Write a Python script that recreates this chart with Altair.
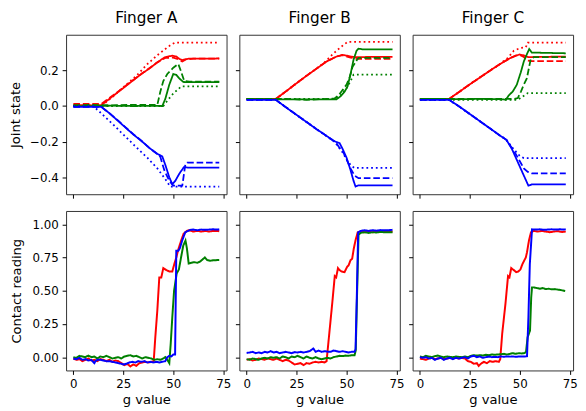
import altair as alt
import pandas as pd

# ---------------- Joint state (top row) ----------------
# Finger A
A_R_SOLID = [(0,0.005),(5,0.005),(10,0.004),(14,0.005),(18,0.04),(22,0.075),(26,0.11),(30,0.145),(34,0.18),(38,0.21),(42,0.245),(45.5,0.272),(47.5,0.278),(49.5,0.283),(51.5,0.278),(53,0.265),(54.5,0.258),(56,0.262),(58,0.266),(63,0.266),(68,0.266),(73,0.267)]
A_R_DASH = [(0,0.012),(14,0.012),(18,0.045),(22,0.078),(26,0.112),(30,0.146),(34,0.18),(38,0.212),(42,0.245),(46,0.27),(50,0.272),(52,0.265),(54.5,0.25),(56.5,0.262),(60,0.266),(73,0.266)]
A_R_DOT = [(0,0.0),(14,0.0),(20,0.055),(26,0.115),(32,0.175),(37,0.235),(42,0.285),(46,0.32),(49,0.345),(51,0.356),(73,0.356)]
A_G_SOLID = [(0,0.0),(10,0.0),(20,0.002),(30,0.0),(40,0.001),(44.5,0.0),(46,0.04),(48,0.12),(50,0.18),(51.5,0.175),(53,0.155),(55,0.135),(58,0.134),(73,0.134)]
A_G_DASH = [(0,0.005),(10,0.006),(20,0.004),(30,0.007),(42,0.006),(43.5,0.08),(45,0.14),(47,0.18),(50,0.215),(52.5,0.236),(54,0.19),(55.5,0.14),(58,0.137),(73,0.137)]
A_G_DOT = [(0,0.0),(45,0.0),(47,0.03),(50,0.07),(54,0.11),(73,0.11)]
A_B_SOLID = [(0,-0.005),(10,-0.005),(14,-0.005),(18,-0.04),(22,-0.08),(26,-0.12),(30,-0.16),(34,-0.195),(38,-0.235),(42,-0.268),(44.5,-0.283),(46,-0.33),(48,-0.4),(49.5,-0.438),(51,-0.42),(53,-0.38),(55.3,-0.343),(58,-0.346),(73,-0.346)]
A_B_DASH = [(0,-0.005),(14,-0.005),(18,-0.04),(22,-0.078),(26,-0.118),(30,-0.158),(34,-0.195),(38,-0.235),(42,-0.27),(43.5,-0.285),(45.5,-0.36),(48,-0.42),(50,-0.447),(54.5,-0.447),(56,-0.33),(57,-0.318),(73,-0.318)]
A_B_DOT = [(0,0.0),(10,0.0),(20,-0.105),(30,-0.215),(37,-0.29),(42,-0.35),(46,-0.41),(48.5,-0.452),(73,-0.452)]

# Finger B
B_R_SOLID = [(0,0.04),(14.6,0.04),(20,0.085),(25,0.128),(30,0.17),(35,0.21),(40,0.25),(45,0.278),(48,0.287),(50,0.283),(52,0.278),(54.7,0.274),(58,0.275),(73,0.276)]
B_R_DASH = [(0,0.04),(14.6,0.04),(20,0.085),(25,0.128),(30,0.17),(35,0.21),(40,0.25),(45,0.278),(48,0.285),(52,0.272),(55,0.265),(73,0.265)]
B_R_DOT = [(0,0.04),(14.6,0.04),(20,0.085),(25,0.128),(30,0.17),(35,0.21),(39,0.245),(43,0.29),(47,0.33),(50.5,0.36),(73,0.36)]
B_G_SOLID = [(0,0.04),(10,0.038),(20,0.037),(30,0.037),(40,0.037),(45,0.038),(47,0.055),(49,0.08),(50.5,0.11),(52,0.18),(53.5,0.26),(55,0.31),(56,0.322),(58,0.318),(73,0.318)]
B_G_DASH = [(0,0.04),(20,0.04),(30,0.035),(40,0.04),(44,0.042),(46,0.06),(48,0.09),(50,0.12),(51.5,0.16),(53,0.22),(55,0.255),(56,0.27),(73,0.27)]
B_G_DOT = [(0,0.04),(44,0.04),(47,0.06),(50,0.1),(52,0.14),(53.5,0.176),(73,0.176)]
B_B_SOLID = [(0,0.035),(14.6,0.035),(20,-0.01),(25,-0.05),(30,-0.09),(35,-0.13),(40,-0.168),(44,-0.198),(46.5,-0.208),(48,-0.24),(50,-0.29),(52,-0.36),(53.5,-0.42),(54.5,-0.452),(56,-0.445),(73,-0.445)]
B_B_DASH = [(0,0.035),(14.6,0.035),(20,-0.01),(25,-0.05),(30,-0.09),(35,-0.13),(40,-0.168),(44,-0.2),(45,-0.21),(46.5,-0.235),(48,-0.25),(50,-0.3),(52,-0.35),(54,-0.39),(56,-0.405),(73,-0.405)]
B_B_DOT = [(0,0.035),(14.6,0.035),(20,-0.01),(25,-0.05),(30,-0.09),(35,-0.13),(40,-0.168),(44,-0.2),(46,-0.23),(48,-0.26),(50,-0.3),(52,-0.33),(53.8,-0.347),(73,-0.347)]

# Finger C
C_R_SOLID = [(0,0.04),(14.6,0.04),(20,0.082),(25,0.122),(30,0.16),(35,0.198),(40,0.235),(45,0.268),(48,0.283),(50,0.289),(52,0.284),(54.3,0.274),(58,0.276),(73,0.277)]
C_R_DASH = [(0,0.04),(14.6,0.04),(20,0.082),(25,0.122),(30,0.16),(35,0.198),(40,0.235),(45,0.268),(48,0.283),(50,0.287),(52,0.275),(54,0.255),(56,0.252),(73,0.252)]
C_R_DOT = [(0,0.04),(14.6,0.04),(20,0.082),(25,0.122),(30,0.16),(35,0.198),(40,0.235),(41,0.245),(44,0.27),(47,0.31),(50,0.325),(53,0.33),(54,0.356),(73,0.356)]
C_G_SOLID = [(0,0.04),(10,0.04),(20,0.038),(30,0.04),(40,0.038),(43,0.036),(44.5,0.06),(46.5,0.082),(48.5,0.12),(50.5,0.19),(52,0.25),(53.5,0.29),(54.7,0.32),(56,0.3),(73,0.296)]
C_G_DASH = [(0,0.04),(20,0.04),(40,0.04),(47,0.04),(49,0.045),(50.5,0.08),(52,0.12),(53.5,0.155),(54.5,0.21),(55.5,0.265),(57,0.274),(73,0.274)]
C_G_DOT = [(0,0.035),(49,0.035),(51,0.05),(54,0.073),(73,0.073)]
C_B_SOLID = [(0,0.035),(14.6,0.035),(20,-0.005),(25,-0.045),(30,-0.085),(35,-0.125),(40,-0.165),(43.3,-0.19),(46,-0.24),(48,-0.29),(50,-0.34),(52,-0.39),(54.3,-0.447),(56,-0.44),(73,-0.44)]
C_B_DASH = [(0,0.035),(14.6,0.035),(20,-0.005),(25,-0.045),(30,-0.085),(35,-0.125),(40,-0.165),(43.3,-0.19),(46,-0.235),(48,-0.27),(50,-0.31),(52,-0.35),(54,-0.37),(56,-0.378),(73,-0.378)]
C_B_DOT = [(0,0.035),(14.6,0.035),(20,-0.005),(25,-0.045),(30,-0.085),(35,-0.125),(40,-0.165),(43.3,-0.19),(46,-0.23),(48,-0.255),(50,-0.28),(52,-0.292),(73,-0.292)]

# ---------------- Contact reading (bottom row) ----------------
CA_R = [(0,-0.01),(1.5,-0.02),(3,-0.015),(4.5,-0.03),(6,-0.02),(7.5,-0.01),(9,-0.025),(10.5,-0.02),(12,-0.03),(13.5,-0.015),(15,-0.02),(16.5,-0.03),(18,-0.02),(19.5,-0.035),(21,-0.025),(22.5,-0.03),(24,-0.045),(25.5,-0.06),(27,-0.05),(28.5,-0.07),(30,-0.055),(31.5,-0.065),(33,-0.045),(34.5,-0.04),(36,-0.035),(37.5,-0.04),(39,-0.035),(40.2,-0.03),(41,0.15),(42,0.35),(43,0.6),(44,0.6),(45,0.67),(46.5,0.655),(48,0.645),(49.5,0.645),(50.5,0.7),(51.5,0.75),(52.7,0.82),(54,0.88),(55.2,0.93),(56.8,0.95),(58,0.955),(60,0.945),(62,0.95),(64,0.945),(66,0.95),(68,0.945),(70,0.95),(72,0.95),(73,0.948)]
CA_G = [(0,0.0),(1.5,-0.005),(3,0.01),(4.5,0.005),(6,0.0),(7.5,0.012),(9,0.0),(10.5,0.005),(12,-0.01),(13.5,0.005),(15,0.0),(16.5,0.01),(18,0.0),(19.5,-0.01),(21,-0.005),(22.5,0.0),(24,-0.01),(25.5,0.005),(27,0.01),(28.5,0.015),(30,0.005),(31.5,0.01),(33,0.0),(34.5,-0.01),(36,0.0),(37.5,-0.005),(39,-0.01),(40.5,-0.02),(42,-0.015),(43.5,-0.02),(45,-0.01),(46,0.0),(47,-0.02),(48,-0.045),(48.7,0.1),(49.5,0.3),(50.4,0.5),(51.7,0.63),(52.8,0.66),(54,0.76),(55,0.84),(56.1,0.877),(56.8,0.82),(57.7,0.705),(59,0.71),(60.5,0.715),(62,0.71),(63.5,0.72),(65,0.74),(65.8,0.75),(67,0.73),(68.5,0.725),(70,0.73),(71.5,0.73),(73,0.732)]
CA_B = [(0,-0.01),(1.5,-0.015),(3,-0.005),(4.5,-0.02),(6,-0.015),(7.5,-0.025),(9,-0.02),(10.5,-0.045),(11,-0.03),(12,-0.02),(13.5,-0.02),(15,-0.025),(16.5,-0.03),(18,-0.03),(19.5,-0.035),(21,-0.04),(22.5,-0.045),(24,-0.05),(25,-0.055),(26.5,-0.05),(28,-0.04),(29.5,-0.035),(31,-0.04),(32.5,-0.03),(34,-0.035),(35.5,-0.03),(37,-0.04),(38.5,-0.035),(40,-0.04),(41.5,-0.035),(43,-0.04),(44.5,-0.035),(46,-0.03),(47,0.0),(48,0.01),(49,0.005),(50,0.02),(50.9,0.02),(51.5,0.8),(52.5,0.8),(53.3,0.82),(54.5,0.88),(56,0.94),(58.5,0.958),(60,0.96),(62,0.955),(64,0.96),(66,0.958),(68,0.96),(70,0.962),(72,0.96),(73,0.962)]

CB_R = [(0,-0.02),(1.5,-0.015),(3,-0.025),(4.5,-0.02),(6,-0.01),(7.5,-0.015),(9,-0.02),(10.5,-0.01),(12,-0.015),(13.5,-0.02),(15,-0.01),(16.5,-0.02),(18,-0.03),(19.5,-0.02),(21,-0.025),(22.5,-0.04),(24,-0.055),(25.5,-0.05),(27,-0.045),(28.5,-0.06),(30,-0.045),(31.5,-0.05),(33,-0.04),(34.5,-0.035),(36,-0.04),(37.5,-0.035),(39,-0.04),(40,-0.03),(41.2,0.154),(42.8,0.4),(44.1,0.61),(44.8,0.6),(45.7,0.67),(46.5,0.655),(47.4,0.645),(49,0.64),(50.3,0.68),(51,0.69),(52,0.73),(52.8,0.74),(53.6,0.816),(54.5,0.88),(55.6,0.94),(57,0.945),(59,0.94),(61,0.945),(63,0.94),(65,0.945),(67,0.942),(69,0.945),(71,0.944),(73,0.945)]
CB_G = [(0,-0.015),(1.5,-0.02),(3,-0.01),(4.5,-0.015),(6,-0.02),(7.5,-0.01),(9,-0.005),(10.5,-0.01),(12,0.0),(13.5,-0.005),(15,0.0),(16.5,-0.01),(18,0.005),(19.5,0.0),(21,-0.01),(22.5,0.005),(24,0.0),(25.5,0.01),(27,0.0),(28.5,-0.01),(30,0.005),(31.5,-0.005),(33,-0.01),(34.5,0.0),(36,-0.01),(37.5,-0.015),(39,-0.01),(40.5,-0.005),(42,-0.01),(43.5,0.0),(45,0.005),(46.5,0.01),(48,0.008),(49.5,0.012),(51,0.01),(52.5,0.015),(54,0.015),(54.6,0.05),(55.3,0.5),(56,0.92),(57,0.935),(59,0.94),(61,0.935),(63,0.94),(65,0.938),(67,0.942),(69,0.94),(71,0.94),(73,0.94)]
CB_B = [(0,0.032),(1.5,0.035),(3,0.04),(4.5,0.03),(6,0.035),(7.5,0.03),(9,0.04),(10.5,0.035),(12,0.045),(13.5,0.035),(15,0.04),(16.5,0.03),(18,0.035),(19.5,0.04),(21,0.035),(22.5,0.03),(24,0.038),(25.5,0.035),(27,0.04),(28.5,0.035),(30,0.04),(31.5,0.045),(33.4,0.065),(34.5,0.04),(36,0.05),(37.5,0.04),(39,0.045),(40.5,0.042),(42,0.04),(43.5,0.05),(45,0.045),(46.5,0.04),(48,0.045),(49.5,0.04),(51,0.035),(52.5,0.04),(54,0.04),(54.5,0.06),(55.2,0.5),(55.8,0.94),(57,0.95),(59,0.955),(61,0.95),(63,0.955),(65,0.952),(67,0.956),(69,0.955),(71,0.955),(73,0.958)]

CC_R = [(0,-0.01),(1.5,-0.015),(3,-0.02),(4.5,-0.01),(6,-0.005),(7.5,-0.015),(9,-0.01),(10.5,-0.005),(12,-0.015),(13.5,-0.01),(15,-0.005),(16.5,-0.01),(18,-0.005),(19.5,-0.01),(21,-0.005),(22.5,-0.01),(24,-0.03),(25.5,-0.035),(27,-0.05),(28.5,-0.045),(29.4,-0.066),(30.5,-0.05),(32,-0.035),(33.5,-0.045),(35,-0.03),(36.5,-0.035),(38,-0.03),(39.5,-0.035),(40.2,-0.015),(41.2,0.18),(42.8,0.4),(44.1,0.61),(44.8,0.6),(45.7,0.67),(47,0.655),(48.2,0.64),(49.3,0.645),(50.3,0.66),(51.3,0.7),(52.3,0.73),(53,0.75),(53.6,0.79),(54.6,0.88),(55.6,0.94),(57,0.95),(59,0.945),(61,0.95),(63,0.945),(65,0.94),(67,0.945),(69,0.948),(71,0.942),(73,0.945)]
CC_G = [(0,0.005),(1.5,0.0),(3,0.01),(4.5,0.005),(6,0.0),(7.5,0.008),(9,0.012),(10.5,0.005),(12,0.0),(13.5,0.005),(15,0.002),(16.5,0.0),(18,0.005),(19.5,0.002),(21,0.0),(22.5,0.005),(24,0.0),(25.5,0.01),(27,0.015),(28.5,0.012),(30,0.015),(31.5,0.012),(33,0.018),(34.5,0.015),(36,0.02),(37.5,0.018),(39,0.02),(40.5,0.022),(42,0.025),(43.5,0.02),(45,0.025),(46.5,0.03),(48,0.025),(49.5,0.03),(51,0.028),(52.3,0.03),(53.1,0.04),(53.9,0.15),(55.1,0.2),(55.7,0.45),(56.1,0.525),(57,0.525),(58.5,0.52),(60,0.515),(61.5,0.52),(63,0.512),(64.5,0.515),(66,0.51),(67.5,0.512),(69,0.508),(70.5,0.505),(72,0.5),(72.7,0.498)]
CC_B = [(0,0.0),(1.5,-0.005),(3,0.0),(4.5,-0.01),(6,-0.005),(7.5,-0.02),(9,-0.01),(10.5,-0.005),(12,-0.02),(13.5,-0.01),(15,-0.005),(16.5,-0.015),(18,-0.005),(19.5,-0.01),(21,-0.005),(22.5,0.0),(24,-0.01),(25.5,0.005),(27,0.01),(28.5,0.0),(30,0.005),(31.5,-0.005),(33,0.0),(34.5,0.005),(36,0.0),(37.5,0.002),(39,0.0),(40.5,0.005),(42,0.003),(43.5,0.005),(45,0.004),(46.5,0.005),(48,0.003),(49.5,0.005),(51,0.005),(52.5,0.005),(53.6,0.007),(54.3,0.3),(55,0.7),(56.1,0.962),(58,0.96),(60,0.962),(62,0.958),(64,0.96),(66,0.962),(68,0.96),(70,0.962),(72,0.96),(73,0.962)]

FINGERS = ["A", "B", "C"]
TITLES = ["Finger A", "Finger B", "Finger C"]
X_TICKS = [0, 25, 50, 75]
JOINT_TICKS = [-0.4, -0.2, 0.0, 0.2]
CONTACT_TICKS = [0.0, 0.25, 0.5, 0.75, 1.0]

TOP = {
    "A": [("r", "solid", A_R_SOLID), ("r", "dashed", A_R_DASH), ("r", "dotted", A_R_DOT),
          ("g", "solid", A_G_SOLID), ("g", "dashed", A_G_DASH), ("g", "dotted", A_G_DOT),
          ("b", "solid", A_B_SOLID), ("b", "dashed", A_B_DASH), ("b", "dotted", A_B_DOT)],
    "B": [("r", "solid", B_R_SOLID), ("r", "dashed", B_R_DASH), ("r", "dotted", B_R_DOT),
          ("g", "solid", B_G_SOLID), ("g", "dashed", B_G_DASH), ("g", "dotted", B_G_DOT),
          ("b", "solid", B_B_SOLID), ("b", "dashed", B_B_DASH), ("b", "dotted", B_B_DOT)],
    "C": [("r", "solid", C_R_SOLID), ("r", "dashed", C_R_DASH), ("r", "dotted", C_R_DOT),
          ("g", "solid", C_G_SOLID), ("g", "dashed", C_G_DASH), ("g", "dotted", C_G_DOT),
          ("b", "solid", C_B_SOLID), ("b", "dashed", C_B_DASH), ("b", "dotted", C_B_DOT)],
}
BOTTOM = {
    "A": [("r", "solid", CA_R), ("g", "solid", CA_G), ("b", "solid", CA_B)],
    "B": [("r", "solid", CB_R), ("g", "solid", CB_G), ("b", "solid", CB_B)],
    "C": [("r", "solid", CC_R), ("g", "solid", CC_G), ("b", "solid", CC_B)],
}


def frame(series):
    rows = []
    for i, (joint, style, pts) in enumerate(series):
        for k, (g, v) in enumerate(pts):
            rows.append({"g": g, "v": v, "joint": joint, "style": style,
                         "key": f"{i:02d}", "k": k})
    return pd.DataFrame(rows)


COLOR = alt.Color("joint:N", scale=alt.Scale(domain=["r", "g", "b"], range=["red", "green", "blue"]), legend=None)
DASH = alt.StrokeDash("style:N", scale=alt.Scale(domain=["solid", "dashed", "dotted"],
                                                  range=[[1, 0], [6.7, 2.9], [1.8, 3.0]]), legend=None)
XSCALE = alt.Scale(domain=[-3.65, 76.65], nice=False, zero=False)


def panel(df, top, col):
    if top:
        ydom, yvals, yfmt, ytitle, tpad = [-0.495, 0.40], JOINT_TICKS, ".1f", "Joint state", 7
    else:
        ydom, yvals, yfmt, ytitle, tpad = [-0.1, 1.1], CONTACT_TICKS, ".2f", "Contact reading", 9
    if col == 0:
        yaxis = alt.Axis(values=yvals, format=yfmt, title=ytitle, titlePadding=tpad)
    else:
        yaxis = alt.Axis(values=yvals, labels=False, title=None)
    if top:
        xaxis = alt.Axis(values=X_TICKS, labels=False, title=None)
    else:
        xaxis = alt.Axis(values=X_TICKS, format="d", title="g value", titlePadding=4)
    ch = alt.Chart(df).mark_line(strokeWidth=1.8 if top else 2.0, clip=True).encode(
        x=alt.X("g:Q", scale=XSCALE, axis=xaxis),
        y=alt.Y("v:Q", scale=alt.Scale(domain=ydom, nice=False, zero=False), axis=yaxis),
        color=COLOR,
        strokeDash=DASH,
        detail="key:N",
        order="k:Q",
    ).properties(width=163, height=162)
    if top:
        ch = ch.properties(title=alt.TitleParams(TITLES[col]))
    return ch


panels = []
for c, f in enumerate(FINGERS):
    panels.append(panel(frame(TOP[f]), True, c))
for c, f in enumerate(FINGERS):
    panels.append(panel(frame(BOTTOM[f]), False, c))

chart = alt.concat(*panels, columns=3, spacing={"row": 17, "column": 13}, bounds="flush").properties(
    padding=0
).configure_view(stroke="#333333", strokeWidth=1).configure_axis(
    grid=False, domain=False, tickColor="#000000", tickSize=4, tickWidth=1,
    labelFont="DejaVu Sans", labelFontSize=12, labelColor="#000000", labelPadding=4,
    titleFont="DejaVu Sans", titleFontSize=13.3, titleFontWeight="normal", titleColor="#000000",
).configure_title(
    font="DejaVu Sans", fontSize=15.5, fontWeight="normal", color="#000000",
    offset=8, baseline="alphabetic", anchor="middle",
)

chart.save("out.html", embed_options={"renderer": "svg", "actions": False})
